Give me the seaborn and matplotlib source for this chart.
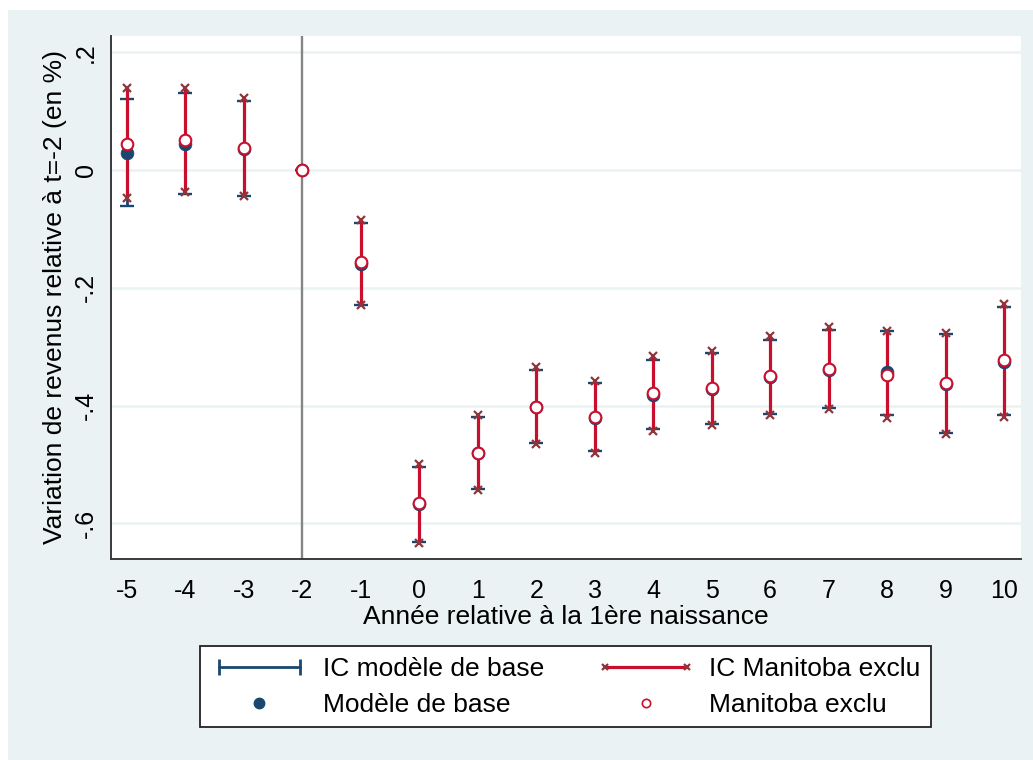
import numpy as np
import pandas as pd
import matplotlib
matplotlib.use("Agg")
import matplotlib.pyplot as plt
from matplotlib.lines import Line2D
from matplotlib.patches import Rectangle
from matplotlib.legend_handler import HandlerLine2D
import seaborn as sns

# Event-study estimates: years relative to first birth
years = [-5, -4, -3, -2, -1, 0, 1, 2, 3, 4, 5, 6, 7, 8, 9, 10]

# Baseline model: estimate and 95% CI
base_est = [0.029, 0.045, 0.035, 0.0, -0.160, -0.567, -0.481, -0.403,
            -0.422, -0.382, -0.372, -0.352, -0.340, -0.343, -0.364, -0.326]
base_lo = [-0.061, -0.040, -0.045, 0.0, -0.229, -0.631, -0.541, -0.464,
           -0.478, -0.440, -0.431, -0.414, -0.404, -0.416, -0.446, -0.416]
base_hi = [0.120, 0.130, 0.117, 0.0, -0.090, -0.504, -0.419, -0.340,
           -0.362, -0.322, -0.311, -0.288, -0.272, -0.273, -0.279, -0.232]

# Model excluding Manitoba: estimate and 95% CI
mb_est = [0.045, 0.051, 0.038, 0.0, -0.157, -0.566, -0.480, -0.402,
          -0.419, -0.379, -0.370, -0.350, -0.338, -0.348, -0.362, -0.323]
mb_lo = [-0.048, -0.037, -0.045, 0.0, -0.229, -0.634, -0.543, -0.465,
         -0.480, -0.443, -0.433, -0.416, -0.406, -0.422, -0.448, -0.419]
mb_hi = [0.139, 0.139, 0.123, 0.0, -0.085, -0.500, -0.416, -0.335,
         -0.358, -0.316, -0.307, -0.282, -0.267, -0.273, -0.276, -0.228]

y_ticks = [0.2, 0.0, -0.2, -0.4, -0.6]
y_ticklabels = [".2", "0", "-.2", "-.4", "-.6"]

legend_labels = ["IC modèle de base", "Modèle de base",
                 "IC Manitoba exclu", "Manitoba exclu"]

NAVY = "#1a476f"
CRIMSON = "#c8102e"
MAROON = "#90353b"
PANEL = "#eaf2f3"

sns.set_style("white")
plt.rcParams["font.family"] = ["Liberation Sans", "DejaVu Sans"]
plt.rcParams["text.color"] = "black"
plt.rcParams["axes.labelcolor"] = "black"

df = pd.DataFrame({
    "year": years,
    "base_est": base_est, "base_lo": base_lo, "base_hi": base_hi,
    "mb_est": mb_est, "mb_lo": mb_lo, "mb_hi": mb_hi,
})

fig = plt.figure(figsize=(10.33, 7.6), dpi=100, facecolor="white")
# light outer panel behind the graph
fig.patches.append(Rectangle((8 / 1033, 0), 1025 / 1033, 750 / 760,
                             transform=fig.transFigure, facecolor=PANEL,
                             edgecolor="none", zorder=-5))

ax = fig.add_axes([111 / 1033, 1 - 559 / 760, 910 / 1033, 523 / 760])
ax.set_zorder(2)
ax.set_facecolor("white")

# reference line at t = -2
ax.axvline(-2, color="#858585", lw=1.7, zorder=1)

# baseline CI: capped navy range
ax.errorbar(df["year"], df["base_est"],
            yerr=[df["base_est"] - df["base_lo"], df["base_hi"] - df["base_est"]],
            fmt="none", ecolor=NAVY, elinewidth=2.0, capsize=4.8, capthick=1.7,
            zorder=2)

# Manitoba-excluded CI: crimson spike with x ends
ax.vlines(df["year"], df["mb_lo"], df["mb_hi"], color=CRIMSON, lw=2.3, zorder=3)
ax.plot(df["year"], df["mb_lo"], ls="none", marker="x", ms=6.0, mew=1.6,
        color=MAROON, zorder=4)
ax.plot(df["year"], df["mb_hi"], ls="none", marker="x", ms=6.0, mew=1.6,
        color=MAROON, zorder=4)

# point estimates
sns.scatterplot(data=df, x="year", y="base_est", ax=ax, color=NAVY, s=85,
                edgecolor=NAVY, linewidth=0.5, zorder=5, legend=False)
sns.scatterplot(data=df, x="year", y="mb_est", ax=ax, color="white", s=70,
                edgecolor=CRIMSON, linewidth=1.5, zorder=6, legend=False)

ax.set_xlim(-5.274, 10.29)
ax.set_ylim(-0.6607, 0.2276)
ax.set_xticks(years)
ax.set_xticklabels([str(v) for v in years])
ax.set_yticks(y_ticks)
ax.set_yticklabels(y_ticklabels, rotation=90, va="center")

ax.grid(axis="y", color=PANEL, lw=1.8, zorder=0)
ax.set_axisbelow(True)

for side in ["top", "right"]:
    ax.spines[side].set_visible(False)
for side in ["left", "bottom"]:
    ax.spines[side].set_color("#3a3a3a")
    ax.spines[side].set_linewidth(1.4)

ax.tick_params(axis="both", direction="out", length=7.5, width=1.2,
               color="#3a3a3a", labelsize=18, labelcolor="black")
ax.tick_params(axis="y", pad=2)
ax.tick_params(axis="x", pad=7)

ax.set_xlabel("Année relative à la 1ère naissance", fontsize=19, labelpad=1)
ax.set_ylabel("Variation de revenus relative à t=-2 (en %)", fontsize=19,
              labelpad=5)

# legend
h_base_ci = Line2D([], [], color=NAVY, lw=2.0, marker="|", ms=11, mew=2.0)
h_base = Line2D([], [], ls="none", marker="o", ms=7.5, color=NAVY)
h_mb_ci = Line2D([], [], color=CRIMSON, lw=2.3, marker="x", ms=5, mew=1.6,
                 markeredgecolor=MAROON)
h_mb = Line2D([], [], ls="none", marker="o", ms=6, markerfacecolor="white",
              markeredgecolor=CRIMSON, mew=1.2)

leg = fig.legend([h_base_ci, h_base, h_mb_ci, h_mb], legend_labels,
                 ncol=2, loc="center", bbox_to_anchor=(0.5474, 0.0961),
                 fontsize=19, frameon=True, fancybox=False, numpoints=1,
                 framealpha=1.0,
                 handlelength=3.7, handletextpad=0.55, columnspacing=2.0,
                 borderpad=0.4, labelspacing=0.45,
                 handler_map={h_base_ci: HandlerLine2D(numpoints=2),
                              h_mb_ci: HandlerLine2D(numpoints=2)})
leg.get_frame().set_edgecolor("#222222")
leg.get_frame().set_linewidth(1.3)
leg.get_frame().set_facecolor("white")
for t in leg.get_texts():
    t.set_color("black")

fig.savefig("out.png", dpi=100, facecolor=fig.get_facecolor())
